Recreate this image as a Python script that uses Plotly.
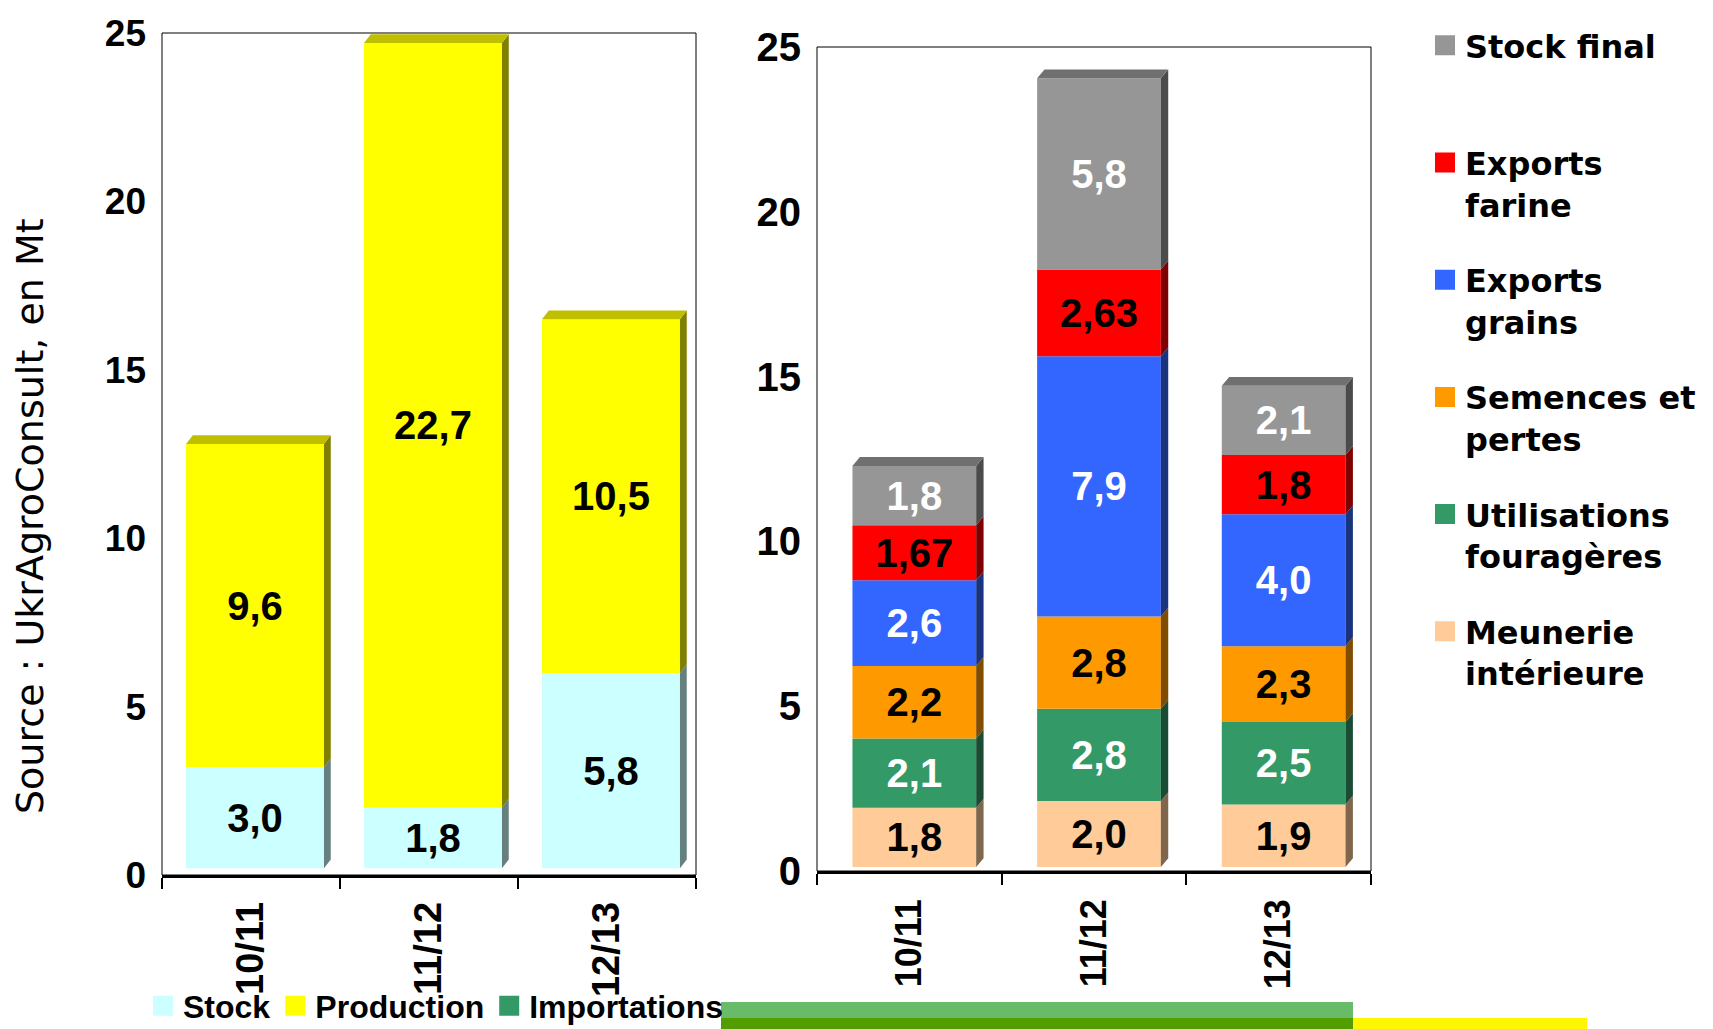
import numpy as np
import plotly.graph_objects as go

# ---------------- data ----------------
categories = ["10/11", "11/12", "12/13"]

# left panel (ressources)
left_stock = [3.0, 1.8, 5.8]
left_production = [9.6, 22.7, 10.5]
left_importations = [0.0, 0.0, 0.0]

# right panel (emplois)
meunerie = [1.8, 2.0, 1.9]
utilisations = [2.1, 2.8, 2.5]
semences = [2.2, 2.8, 2.3]
exports_grains = [2.6, 7.9, 4.0]
exports_farine = [1.67, 2.63, 1.8]
stock_final = [1.8, 5.8, 2.1]

y_ticks = [0, 5, 10, 15, 20, 25]

# ---------------- styles ----------------
ARIAL = "Liberation Sans, Arial, sans-serif"
DEJAVU = "DejaVu Sans, sans-serif"
W, H = 1713, 1029


def fmt(values):
    return [f"{v:.1f}".replace(".", ",") for v in values]


def fmt_g(values):
    return [f"{v:g}".replace(".", ",") for v in values]


def shade(hexcol, f):
    hexcol = hexcol.lstrip("#")
    r, g, b = (int(hexcol[i:i + 2], 16) for i in (0, 2, 4))
    return "rgb({},{},{})".format(int(r * f), int(g * f), int(b * f))


left_series = [
    dict(name="Stock", values=left_stock, color="#CCFFFF", text=fmt(left_stock), tc="black"),
    dict(name="Production", values=left_production, color="#FFFF00", text=fmt(left_production), tc="black"),
    dict(name="Importations", values=left_importations, color="#339966", text=None, tc="black"),
]
right_series = [
    dict(name="Meunerie<br>intérieure", values=meunerie, color="#FFCC99", text=fmt(meunerie), tc="black"),
    dict(name="Utilisations<br>fouragères", values=utilisations, color="#339966", text=fmt(utilisations), tc="white"),
    dict(name="Semences et<br>pertes", values=semences, color="#FF9900", text=fmt(semences), tc="black"),
    dict(name="Exports<br>grains", values=exports_grains, color="#3366FF", text=fmt(exports_grains), tc="white"),
    dict(name="Exports<br>farine", values=exports_farine, color="#FF0000", text=fmt_g(exports_farine), tc="black"),
    dict(name="Stock final<br>\u00a0", values=stock_final, color="#969696", text=fmt(stock_final), tc="white"),
]

fig = go.Figure()


def add_stack(series, xa, ya, off, width, dx, dy, floor, font_size):
    x = np.arange(len(categories), dtype=float)
    base = np.full(len(categories), floor)
    top_color = [None] * len(categories)
    for s in series:
        vals = np.array(s["values"], dtype=float)
        if vals.sum() <= 0:
            continue
        fig.add_trace(go.Bar(
            x=x, y=vals, base=base, offset=off, width=width,
            marker=dict(color=s["color"], line=dict(width=0)),
            text=s["text"], textposition="inside", insidetextanchor="middle",
            textangle=0, constraintext="none",
            textfont=dict(family=ARIAL, size=font_size, color=s["tc"], weight="bold"),
            xaxis=xa, yaxis=ya, showlegend=False, hoverinfo="skip",
        ))
        xs, ys = [], []
        for i in range(len(categories)):
            if vals[i] <= 0:
                continue
            r = x[i] + off + width
            b = base[i]
            t = base[i] + vals[i]
            xs += [r, r + dx, r + dx, r, r, None]
            ys += [b, b + dy, t + dy, t, b, None]
            top_color[i] = s["color"]
        fig.add_trace(go.Scatter(
            x=xs, y=ys, mode="lines", fill="toself", fillcolor=shade(s["color"], 0.5),
            line=dict(width=0), xaxis=xa, yaxis=ya, showlegend=False, hoverinfo="skip",
        ))
        base = base + vals
    # top caps
    for i in range(len(categories)):
        l = x[i] + off
        r = l + width
        t = base[i]
        fig.add_trace(go.Scatter(
            x=[l, l + dx, r + dx, r, l], y=[t, t + dy, t + dy, t, t],
            mode="lines", fill="toself", fillcolor=shade(top_color[i], 0.75),
            line=dict(width=0), xaxis=xa, yaxis=ya, showlegend=False, hoverinfo="skip",
        ))


add_stack(left_series, "x", "y", -0.365, 0.775, 0.038, 0.26, 0.2, 40)
add_stack(right_series, "x2", "y2", -0.308, 0.67, 0.04, 0.27, 0.12, 40)


# legend entries
def legend_item(name, color, legend, xa, ya, group):
    fig.add_trace(go.Scatter(
        x=[None], y=[None], mode="markers", name=name,
        marker=dict(symbol="square", size=16, color=color, line=dict(color=color, width=4)),
        legend=legend, legendgroup=group, showlegend=True, xaxis=xa, yaxis=ya, hoverinfo="skip",
    ))


for s in left_series:
    legend_item(s["name"], s["color"], "legend", "x", "y", "L" + s["name"])
for s in reversed(right_series):
    legend_item(s["name"], s["color"], "legend2", "x2", "y2", "R" + s["name"])

boundaries = [i - 0.5 for i in range(len(categories) + 1)]


def xaxis_cfg(domain, anchor, size, standoff):
    return dict(
        domain=domain, anchor=anchor, range=[-0.5, len(categories) - 0.5],
        tickmode="array", tickvals=list(range(len(categories))), ticktext=categories,
        tickangle=-90, tickfont=dict(family=ARIAL, size=size, color="black", weight="bold"),
        ticks="", showline=True, linecolor="black", linewidth=2.5,
        minor=dict(tickmode="array", tickvals=boundaries, ticks="outside", ticklen=11,
                   tickcolor="black", tickwidth=1.5),
        showgrid=False, zeroline=False, automargin=False, fixedrange=True,
        ticklabelstandoff=standoff,
    )


def yaxis_cfg(domain, anchor, size):
    return dict(
        domain=domain, anchor=anchor, range=[0, 25], tickmode="array", tickvals=y_ticks,
        tickfont=dict(family=ARIAL, size=size, color="black", weight="bold"),
        ticks="", showline=False, showgrid=False, zeroline=False, automargin=False,
        fixedrange=True, ticklabelstandoff=15,
    )


fig.update_layout(
    width=W, height=H,
    margin=dict(l=0, r=0, t=0, b=0, autoexpand=False),
    paper_bgcolor="white", plot_bgcolor="white",
    barmode="overlay",
    xaxis=xaxis_cfg([162 / W, 696 / W], "y", 38, 9),
    yaxis=yaxis_cfg([1 - 875 / H, 1 - 33 / H], "x", 37),
    xaxis2=xaxis_cfg([817 / W, 1371 / W], "y2", 36, 11),
    yaxis2=yaxis_cfg([1 - 871 / H, 1 - 47 / H], "x2", 40),
    legend=dict(
        orientation="h", xref="container", yref="container",
        x=143 / W, y=1 - 1006 / H, xanchor="left", yanchor="middle",
        font=dict(family=ARIAL, size=32, color="black", weight="bold"),
        bgcolor="rgba(0,0,0,0)", itemclick=False, itemdoubleclick=False,
        traceorder="normal", itemsizing="trace",
    ),
    legend2=dict(
        orientation="v", xref="container", yref="container",
        x=1425 / W, y=1 - 18 / H, xanchor="left", yanchor="top",
        font=dict(family=DEJAVU, size=32, color="black", weight="bold"),
        bgcolor="rgba(0,0,0,0)", itemclick=False, itemdoubleclick=False,
        traceorder="grouped", tracegroupgap=31, valign="top", itemsizing="trace",
        maxheight=1000,
    ),
    showlegend=True,
)

# plot frames
for xr, yr in (("x domain", "y domain"), ("x2 domain", "y2 domain")):
    fig.add_shape(type="rect", xref=xr, yref=yr, x0=0, x1=1, y0=0, y1=1,
                  line=dict(color="black", width=1), fillcolor="rgba(0,0,0,0)")

# y axis title
fig.add_annotation(
    text="Source : UkrAgroConsult, en Mt", textangle=-90, showarrow=False,
    xref="paper", yref="paper", x=30 / W, y=1 - 516 / H, xanchor="center", yanchor="middle",
    font=dict(family=DEJAVU, size=38, color="black"),
)

# decorative slide bands at the bottom
fig.add_shape(type="rect", xref="paper", yref="paper", x0=721 / W, x1=1353 / W,
              y0=1 - 1018 / H, y1=1 - 1002 / H, fillcolor="#68BB68", line=dict(width=0), layer="below")
fig.add_shape(type="rect", xref="paper", yref="paper", x0=721 / W, x1=1353 / W,
              y0=0, y1=1 - 1018 / H, fillcolor="#529E00", line=dict(width=0), layer="below")
fig.add_shape(type="rect", xref="paper", yref="paper", x0=1353 / W, x1=1587 / W,
              y0=0, y1=1 - 1018 / H, fillcolor="#FFF700", line=dict(width=0), layer="below")

fig.write_html("out.html", config={"displayModeBar": False},
               post_script="document.body.style.margin='0';")
